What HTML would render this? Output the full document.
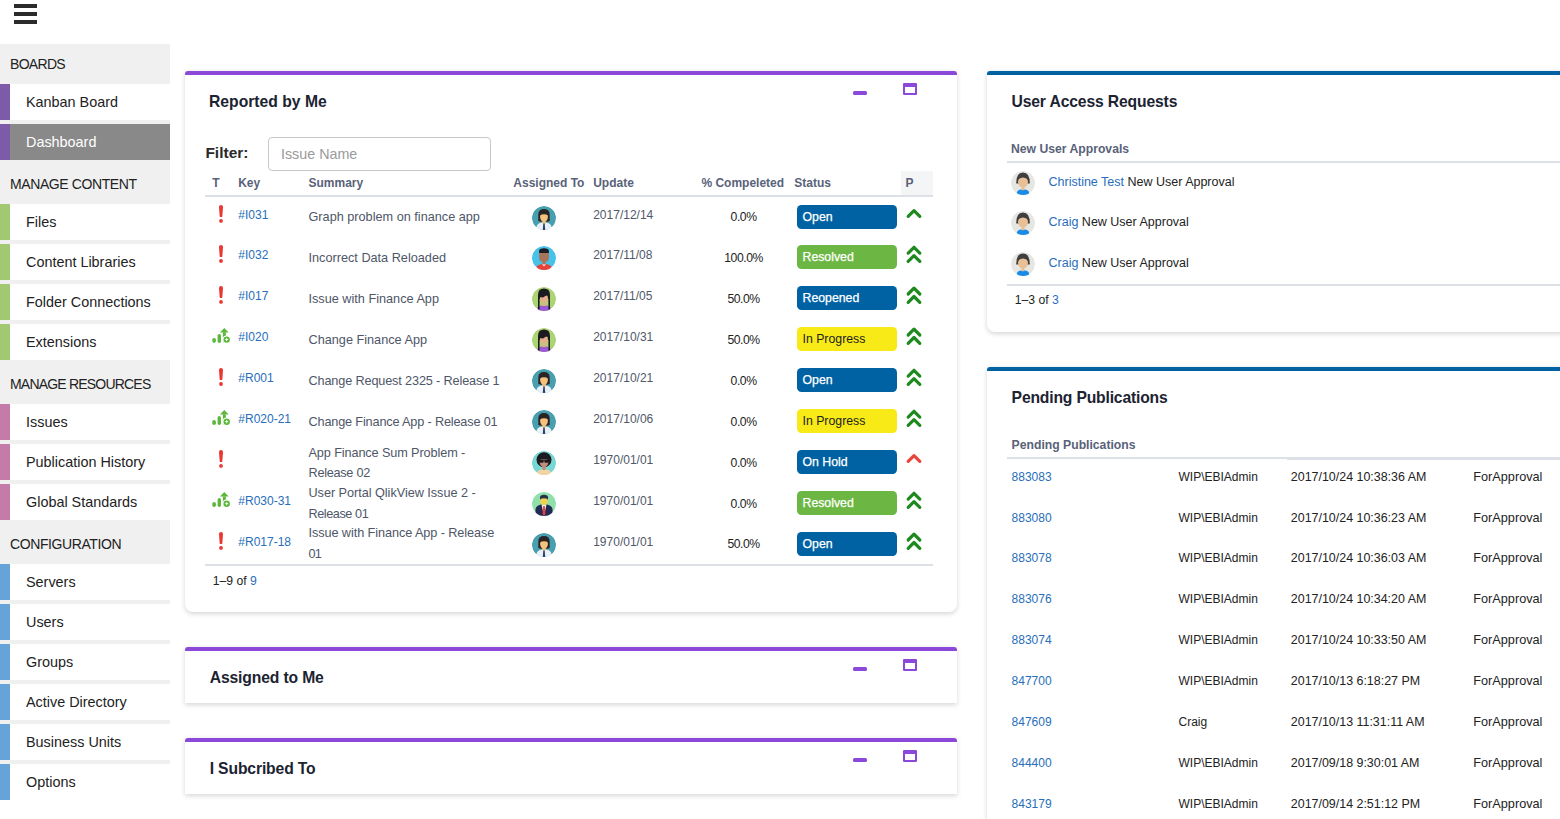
<!DOCTYPE html>
<html><head><meta charset="utf-8">
<style>
*{box-sizing:border-box;margin:0;padding:0}
html,body{width:1560px;height:819px;overflow:hidden;background:#fff;font-family:"Liberation Sans",sans-serif;color:#222;position:relative}
.a{position:absolute;white-space:nowrap}
.ham{position:absolute;left:14px;width:23px;height:4px;background:#2b2b2b}
#side{position:absolute;left:0;top:44px;width:170px;height:756px;background:#f0f0f0}
#side .h{height:40px;line-height:40px;padding-left:10px;font-size:14px;color:#222;letter-spacing:-0.4px}
#side .i{height:36px;line-height:36px;margin-bottom:4px;background:#fff;border-left:10px solid #7e5ba8;padding-left:16px;font-size:14.4px;color:#222}
#side .i.sel{background:#898989;color:#fff}
#side .g{border-left-color:#a3c872}
#side .p{border-left-color:#c57aa9}
#side .b{border-left-color:#66a3d9}
.panel{position:absolute;background:#fff;border-radius:3px 3px 8px 8px;box-shadow:0 1.5px 5px rgba(0,0,0,0.16)}
.pt{border-top:4px solid #8c48d9}
.bt{border-top:4px solid #0062a3}
.min{position:absolute;width:14px;height:4px;background:#8c48d9;border-radius:1.5px}
.max{position:absolute;width:14px;height:12px;border:2px solid #8c48d9;border-top-width:4px;border-radius:1px}
.badge{width:100px;height:24px;border-radius:4.5px;padding-left:5.5px;font-size:12.3px;line-height:24px;-webkit-text-stroke:0.25px currentColor}
</style></head><body>
<div class="ham" style="top:4px"></div>
<div class="ham" style="top:12px"></div>
<div class="ham" style="top:20px"></div>
<div id="side">
<div class="h" style="letter-spacing:-0.7px">BOARDS</div>
<div class="i">Kanban Board</div>
<div class="i sel">Dashboard</div>
<div class="h">MANAGE CONTENT</div>
<div class="i g">Files</div>
<div class="i g">Content Libraries</div>
<div class="i g">Folder Connections</div>
<div class="i g">Extensions</div>
<div class="h" style="letter-spacing:-0.8px">MANAGE RESOURCES</div>
<div class="i p">Issues</div>
<div class="i p">Publication History</div>
<div class="i p">Global Standards</div>
<div class="h">CONFIGURATION</div>
<div class="i b">Servers</div>
<div class="i b">Users</div>
<div class="i b">Groups</div>
<div class="i b">Active Directory</div>
<div class="i b">Business Units</div>
<div class="i b" style="margin-bottom:0">Options</div>
</div>
<div class="panel pt" style="left:185px;top:71px;width:772px;height:541px"></div>
<div class="a " style="left:209.0px;top:94.00px;font-size:15.7px;line-height:15.7px;color:#1c2331;font-weight:bold;">Reported by Me</div>
<div class="min" style="left:853px;top:91px"></div><div class="max" style="left:903px;top:83px"></div>
<div class="a " style="left:205.4px;top:145.00px;font-size:15.5px;line-height:15.5px;color:#2a2a2a;font-weight:bold;">Filter:</div>
<div class="a" style="left:268px;top:137px;width:223px;height:34px;border:1px solid #c8c8c8;border-radius:4px"></div>
<div class="a " style="left:281.0px;top:147.00px;font-size:14.3px;line-height:14.3px;color:#9a9a9a;font-weight:normal;">Issue Name</div>
<div class="a" style="left:901px;top:171px;width:32px;height:24px;background:#f4f5f7"></div>
<div class="a " style="left:212.3px;top:177.00px;font-size:12px;line-height:12px;color:#596279;font-weight:bold;">T</div>
<div class="a " style="left:238.2px;top:177.00px;font-size:12px;line-height:12px;color:#596279;font-weight:bold;">Key</div>
<div class="a " style="left:308.5px;top:177.00px;font-size:12px;line-height:12px;color:#596279;font-weight:bold;">Summary</div>
<div class="a " style="left:513.3px;top:177.00px;font-size:12px;line-height:12px;color:#596279;font-weight:bold;">Assigned To</div>
<div class="a " style="left:593.2px;top:177.00px;font-size:12px;line-height:12px;color:#596279;font-weight:bold;">Update</div>
<div class="a " style="left:701.4px;top:177.00px;font-size:12px;line-height:12px;color:#596279;font-weight:bold;">% Compeleted</div>
<div class="a " style="left:794.3px;top:177.00px;font-size:12px;line-height:12px;color:#596279;font-weight:bold;">Status</div>
<div class="a " style="left:905.5px;top:177.00px;font-size:12px;line-height:12px;color:#596279;font-weight:bold;">P</div>
<div class="a" style="left:205px;top:195px;width:728px;height:2px;background:#dde0e7"></div>
<div class="a" style="left:205px;top:564px;width:728px;height:2px;background:#dde0e7"></div>
<div class="a " style="left:212.7px;top:575.00px;font-size:12.2px;line-height:12.2px;color:#222;font-weight:normal;">1–9 of <span style="color:#276ebb">9</span></div>
<div class="a " style="left:238.3px;top:209.00px;font-size:12px;line-height:12px;color:#276ebb;font-weight:normal;">#I031</div>
<div class="a " style="left:308.5px;top:211.00px;font-size:12.7px;line-height:12.7px;color:#4e5668;font-weight:normal;letter-spacing:0px">Graph problem on finance app</div>
<div class="a " style="left:593.2px;top:209.00px;font-size:12px;line-height:12px;color:#505869;font-weight:normal;">2017/12/14</div>
<div class="a" style="left:693.6px;width:100px;text-align:center;top:211.00px;font-size:12.2px;line-height:12.2px;color:#222;font-weight:normal;letter-spacing:-0.45px">0.0%</div>
<div class="a badge" style="left:797px;top:204.9px;background:#0062a3;color:#fff;">Open</div>
<div class="a " style="left:238.3px;top:249.00px;font-size:12px;line-height:12px;color:#276ebb;font-weight:normal;">#I032</div>
<div class="a " style="left:308.5px;top:252.00px;font-size:12.7px;line-height:12.7px;color:#4e5668;font-weight:normal;letter-spacing:0px">Incorrect Data Reloaded</div>
<div class="a " style="left:593.2px;top:249.00px;font-size:12px;line-height:12px;color:#505869;font-weight:normal;">2017/11/08</div>
<div class="a" style="left:693.6px;width:100px;text-align:center;top:252.00px;font-size:12.2px;line-height:12.2px;color:#222;font-weight:normal;letter-spacing:-0.45px">100.0%</div>
<div class="a badge" style="left:797px;top:245.0px;background:#6cb743;color:#fff;">Resolved</div>
<div class="a " style="left:238.3px;top:290.00px;font-size:12px;line-height:12px;color:#276ebb;font-weight:normal;">#I017</div>
<div class="a " style="left:308.5px;top:293.00px;font-size:12.7px;line-height:12.7px;color:#4e5668;font-weight:normal;letter-spacing:0px">Issue with Finance App</div>
<div class="a " style="left:593.2px;top:290.00px;font-size:12px;line-height:12px;color:#505869;font-weight:normal;">2017/11/05</div>
<div class="a" style="left:693.6px;width:100px;text-align:center;top:293.00px;font-size:12.2px;line-height:12.2px;color:#222;font-weight:normal;letter-spacing:-0.45px">50.0%</div>
<div class="a badge" style="left:797px;top:285.9px;background:#0062a3;color:#fff;">Reopened</div>
<div class="a " style="left:238.3px;top:331.00px;font-size:12px;line-height:12px;color:#276ebb;font-weight:normal;">#I020</div>
<div class="a " style="left:308.5px;top:334.00px;font-size:12.7px;line-height:12.7px;color:#4e5668;font-weight:normal;letter-spacing:0px">Change Finance App</div>
<div class="a " style="left:593.2px;top:331.00px;font-size:12px;line-height:12px;color:#505869;font-weight:normal;">2017/10/31</div>
<div class="a" style="left:693.6px;width:100px;text-align:center;top:334.00px;font-size:12.2px;line-height:12.2px;color:#222;font-weight:normal;letter-spacing:-0.45px">50.0%</div>
<div class="a badge" style="left:797px;top:326.9px;background:#f7ea16;color:#222;-webkit-text-stroke:0">In Progress</div>
<div class="a " style="left:238.3px;top:372.00px;font-size:12px;line-height:12px;color:#276ebb;font-weight:normal;">#R001</div>
<div class="a " style="left:308.5px;top:375.00px;font-size:12.7px;line-height:12.7px;color:#4e5668;font-weight:normal;letter-spacing:-0.145px">Change Request 2325 - Release 1</div>
<div class="a " style="left:593.2px;top:372.00px;font-size:12px;line-height:12px;color:#505869;font-weight:normal;">2017/10/21</div>
<div class="a" style="left:693.6px;width:100px;text-align:center;top:375.00px;font-size:12.2px;line-height:12.2px;color:#222;font-weight:normal;letter-spacing:-0.45px">0.0%</div>
<div class="a badge" style="left:797px;top:368.0px;background:#0062a3;color:#fff;">Open</div>
<div class="a " style="left:238.3px;top:413.00px;font-size:12px;line-height:12px;color:#276ebb;font-weight:normal;">#R020-21</div>
<div class="a " style="left:308.5px;top:416.00px;font-size:12.7px;line-height:12.7px;color:#4e5668;font-weight:normal;letter-spacing:-0.16px">Change Finance App - Release 01</div>
<div class="a " style="left:593.2px;top:413.00px;font-size:12px;line-height:12px;color:#505869;font-weight:normal;">2017/10/06</div>
<div class="a" style="left:693.6px;width:100px;text-align:center;top:416.00px;font-size:12.2px;line-height:12.2px;color:#222;font-weight:normal;letter-spacing:-0.45px">0.0%</div>
<div class="a badge" style="left:797px;top:409.0px;background:#f7ea16;color:#222;-webkit-text-stroke:0">In Progress</div>
<div class="a " style="left:308.5px;top:447.00px;font-size:12.7px;line-height:12.7px;color:#4e5668;font-weight:normal;letter-spacing:-0.11px">App Finance Sum Problem -</div>
<div class="a " style="left:308.5px;top:467.00px;font-size:12.7px;line-height:12.7px;color:#4e5668;font-weight:normal;letter-spacing:-0.27px">Release 02</div>
<div class="a " style="left:593.2px;top:454.00px;font-size:12px;line-height:12px;color:#505869;font-weight:normal;">1970/01/01</div>
<div class="a" style="left:693.6px;width:100px;text-align:center;top:457.00px;font-size:12.2px;line-height:12.2px;color:#222;font-weight:normal;letter-spacing:-0.45px">0.0%</div>
<div class="a badge" style="left:797px;top:449.9px;background:#0062a3;color:#fff;">On Hold</div>
<div class="a " style="left:238.3px;top:495.00px;font-size:12px;line-height:12px;color:#276ebb;font-weight:normal;">#R030-31</div>
<div class="a " style="left:308.5px;top:487.00px;font-size:12.7px;line-height:12.7px;color:#4e5668;font-weight:normal;letter-spacing:-0.04px">User Portal QlikView Issue 2 -</div>
<div class="a " style="left:308.5px;top:508.00px;font-size:12.7px;line-height:12.7px;color:#4e5668;font-weight:normal;letter-spacing:-0.44px">Release 01</div>
<div class="a " style="left:593.2px;top:495.00px;font-size:12px;line-height:12px;color:#505869;font-weight:normal;">1970/01/01</div>
<div class="a" style="left:693.6px;width:100px;text-align:center;top:498.00px;font-size:12.2px;line-height:12.2px;color:#222;font-weight:normal;letter-spacing:-0.45px">0.0%</div>
<div class="a badge" style="left:797px;top:491.0px;background:#6cb743;color:#fff;">Resolved</div>
<div class="a " style="left:238.3px;top:536.00px;font-size:12px;line-height:12px;color:#276ebb;font-weight:normal;">#R017-18</div>
<div class="a " style="left:308.5px;top:527.00px;font-size:12.7px;line-height:12.7px;color:#4e5668;font-weight:normal;letter-spacing:-0.08px">Issue with Finance App - Release</div>
<div class="a " style="left:308.5px;top:548.00px;font-size:12.7px;line-height:12.7px;color:#4e5668;font-weight:normal;letter-spacing:-0.8px">01</div>
<div class="a " style="left:593.2px;top:536.00px;font-size:12px;line-height:12px;color:#505869;font-weight:normal;">1970/01/01</div>
<div class="a" style="left:693.6px;width:100px;text-align:center;top:538.00px;font-size:12.2px;line-height:12.2px;color:#222;font-weight:normal;letter-spacing:-0.45px">50.0%</div>
<div class="a badge" style="left:797px;top:531.9px;background:#0062a3;color:#fff;">Open</div>
<div class="panel pt" style="left:185px;top:647px;width:772px;height:56px;border-radius:3px 3px 0 0"></div>
<div class="a " style="left:209.7px;top:670.00px;font-size:15.7px;line-height:15.7px;color:#1c2331;font-weight:bold;letter-spacing:-0.14px">Assigned to Me</div>
<div class="min" style="left:853px;top:667px"></div><div class="max" style="left:903px;top:659px"></div>
<div class="panel pt" style="left:185px;top:738px;width:772px;height:56px;border-radius:3px 3px 0 0"></div>
<div class="a " style="left:209.7px;top:761.00px;font-size:15.7px;line-height:15.7px;color:#1c2331;font-weight:bold;letter-spacing:-0.14px">I Subcribed To</div>
<div class="min" style="left:853px;top:758px"></div><div class="max" style="left:903px;top:750px"></div>
<div class="panel bt" style="left:987px;top:71px;width:640px;height:261px"></div>
<div class="a " style="left:1011.5px;top:94.00px;font-size:15.7px;line-height:15.7px;color:#1c2331;font-weight:bold;letter-spacing:-0.14px">User Access Requests</div>
<div class="a " style="left:1011.0px;top:143.00px;font-size:12.2px;line-height:12.2px;color:#596279;font-weight:bold;">New User Approvals</div>
<div class="a" style="left:1007px;top:161px;width:560px;height:2px;background:#dde0e7"></div>
<div class="a " style="left:1048.5px;top:176.00px;font-size:12.5px;line-height:12.5px;color:#222;font-weight:normal;"><span style="color:#276ebb">Christine Test</span> New User Approval</div>
<div class="a " style="left:1048.5px;top:216.00px;font-size:12.5px;line-height:12.5px;color:#222;font-weight:normal;"><span style="color:#276ebb">Craig</span> New User Approval</div>
<div class="a " style="left:1048.5px;top:257.00px;font-size:12.5px;line-height:12.5px;color:#222;font-weight:normal;"><span style="color:#276ebb">Craig</span> New User Approval</div>
<div class="a" style="left:1007px;top:284px;width:560px;height:2px;background:#dde0e7"></div>
<div class="a " style="left:1014.8px;top:294.00px;font-size:12.2px;line-height:12.2px;color:#222;font-weight:normal;">1–3 of <span style="color:#276ebb">3</span></div>
<div class="panel bt" style="left:987px;top:367px;width:640px;height:500px"></div>
<div class="a " style="left:1011.6px;top:390.00px;font-size:15.7px;line-height:15.7px;color:#1c2331;font-weight:bold;letter-spacing:-0.18px">Pending Publications</div>
<div class="a " style="left:1011.6px;top:439.00px;font-size:12.2px;line-height:12.2px;color:#596279;font-weight:bold;">Pending Publications</div>
<div class="a" style="left:1007px;top:457px;width:560px;height:2px;background:#dde0e7"></div>
<div class="a" style="left:1287px;top:459px;width:280px;height:1px;background:#dde0e7"></div>
<div class="a " style="left:1011.6px;top:471.00px;font-size:12px;line-height:12px;color:#276ebb;font-weight:normal;">883083</div>
<div class="a " style="left:1178.5px;top:471.00px;font-size:12.0px;line-height:12.0px;color:#222;font-weight:normal;">WIP\EBIAdmin</div>
<div class="a " style="left:1290.8px;top:471.00px;font-size:12.45px;line-height:12.45px;color:#222;font-weight:normal;">2017/10/24 10:38:36 AM</div>
<div class="a " style="left:1473.3px;top:471.00px;font-size:12.7px;line-height:12.7px;color:#222;font-weight:normal;">ForApproval</div>
<div class="a " style="left:1011.6px;top:512.00px;font-size:12px;line-height:12px;color:#276ebb;font-weight:normal;">883080</div>
<div class="a " style="left:1178.5px;top:512.00px;font-size:12.0px;line-height:12.0px;color:#222;font-weight:normal;">WIP\EBIAdmin</div>
<div class="a " style="left:1290.8px;top:512.00px;font-size:12.45px;line-height:12.45px;color:#222;font-weight:normal;">2017/10/24 10:36:23 AM</div>
<div class="a " style="left:1473.3px;top:512.00px;font-size:12.7px;line-height:12.7px;color:#222;font-weight:normal;">ForApproval</div>
<div class="a " style="left:1011.6px;top:552.00px;font-size:12px;line-height:12px;color:#276ebb;font-weight:normal;">883078</div>
<div class="a " style="left:1178.5px;top:552.00px;font-size:12.0px;line-height:12.0px;color:#222;font-weight:normal;">WIP\EBIAdmin</div>
<div class="a " style="left:1290.8px;top:552.00px;font-size:12.45px;line-height:12.45px;color:#222;font-weight:normal;">2017/10/24 10:36:03 AM</div>
<div class="a " style="left:1473.3px;top:552.00px;font-size:12.7px;line-height:12.7px;color:#222;font-weight:normal;">ForApproval</div>
<div class="a " style="left:1011.6px;top:593.00px;font-size:12px;line-height:12px;color:#276ebb;font-weight:normal;">883076</div>
<div class="a " style="left:1178.5px;top:593.00px;font-size:12.0px;line-height:12.0px;color:#222;font-weight:normal;">WIP\EBIAdmin</div>
<div class="a " style="left:1290.8px;top:593.00px;font-size:12.45px;line-height:12.45px;color:#222;font-weight:normal;">2017/10/24 10:34:20 AM</div>
<div class="a " style="left:1473.3px;top:593.00px;font-size:12.7px;line-height:12.7px;color:#222;font-weight:normal;">ForApproval</div>
<div class="a " style="left:1011.6px;top:634.00px;font-size:12px;line-height:12px;color:#276ebb;font-weight:normal;">883074</div>
<div class="a " style="left:1178.5px;top:634.00px;font-size:12.0px;line-height:12.0px;color:#222;font-weight:normal;">WIP\EBIAdmin</div>
<div class="a " style="left:1290.8px;top:634.00px;font-size:12.45px;line-height:12.45px;color:#222;font-weight:normal;">2017/10/24 10:33:50 AM</div>
<div class="a " style="left:1473.3px;top:634.00px;font-size:12.7px;line-height:12.7px;color:#222;font-weight:normal;">ForApproval</div>
<div class="a " style="left:1011.6px;top:675.00px;font-size:12px;line-height:12px;color:#276ebb;font-weight:normal;">847700</div>
<div class="a " style="left:1178.5px;top:675.00px;font-size:12.0px;line-height:12.0px;color:#222;font-weight:normal;">WIP\EBIAdmin</div>
<div class="a " style="left:1290.8px;top:675.00px;font-size:12.45px;line-height:12.45px;color:#222;font-weight:normal;">2017/10/13 6:18:27 PM</div>
<div class="a " style="left:1473.3px;top:675.00px;font-size:12.7px;line-height:12.7px;color:#222;font-weight:normal;">ForApproval</div>
<div class="a " style="left:1011.6px;top:716.00px;font-size:12px;line-height:12px;color:#276ebb;font-weight:normal;">847609</div>
<div class="a " style="left:1178.5px;top:716.00px;font-size:12.0px;line-height:12.0px;color:#222;font-weight:normal;">Craig</div>
<div class="a " style="left:1290.8px;top:716.00px;font-size:12.45px;line-height:12.45px;color:#222;font-weight:normal;">2017/10/13 11:31:11 AM</div>
<div class="a " style="left:1473.3px;top:716.00px;font-size:12.7px;line-height:12.7px;color:#222;font-weight:normal;">ForApproval</div>
<div class="a " style="left:1011.6px;top:757.00px;font-size:12px;line-height:12px;color:#276ebb;font-weight:normal;">844400</div>
<div class="a " style="left:1178.5px;top:757.00px;font-size:12.0px;line-height:12.0px;color:#222;font-weight:normal;">WIP\EBIAdmin</div>
<div class="a " style="left:1290.8px;top:757.00px;font-size:12.45px;line-height:12.45px;color:#222;font-weight:normal;">2017/09/18 9:30:01 AM</div>
<div class="a " style="left:1473.3px;top:757.00px;font-size:12.7px;line-height:12.7px;color:#222;font-weight:normal;">ForApproval</div>
<div class="a " style="left:1011.6px;top:798.00px;font-size:12px;line-height:12px;color:#276ebb;font-weight:normal;">843179</div>
<div class="a " style="left:1178.5px;top:798.00px;font-size:12.0px;line-height:12.0px;color:#222;font-weight:normal;">WIP\EBIAdmin</div>
<div class="a " style="left:1290.8px;top:798.00px;font-size:12.45px;line-height:12.45px;color:#222;font-weight:normal;">2017/09/14 2:51:12 PM</div>
<div class="a " style="left:1473.3px;top:798.00px;font-size:12.7px;line-height:12.7px;color:#222;font-weight:normal;">ForApproval</div>
<svg style="position:absolute;left:0;top:0" width="1560" height="819" viewBox="0 0 1560 819"><defs><clipPath id="avc"><circle cx="12" cy="12" r="12"/></clipPath><g id="av-teal"><g clip-path="url(#avc)"><circle cx="12" cy="12" r="12" fill="#479fb0"/>
<path d="M6.3,15 V8.5 Q6.3,3 12,3 Q17.7,3 17.7,8.5 V15 Q15,16 12,15.5 Q9,16 6.3,15 Z" fill="#2b2424"/>
<path d="M4.5,24 V21 Q5,17.3 10,16.5 L14,16.5 Q19,17.3 19.5,21 V24 Z" fill="#e9f1f6"/>
<path d="M10.3,14 h3.4 v3 l-1.7,1.5 l-1.7,-1.5 Z" fill="#f5c27e"/>
<ellipse cx="12" cy="11" rx="3.9" ry="4.6" fill="#f5c27e"/>
<path d="M7.6,9.2 Q7.6,5 12,5 Q16.4,5 16.4,9.2 Q12,7.2 7.6,9.2 Z" fill="#2b2424"/>
<path d="M11.3,17.5 h1.4 l0.5,6.5 h-2.4 Z" fill="#2a3d6b"/></g></g><g id="av-blue"><g clip-path="url(#avc)"><circle cx="12" cy="12" r="12" fill="#47c3ea"/>
<path d="M4.5,24 V21.5 Q5,18.5 10,18 L14,18 Q19,18.5 19.5,21.5 V24 Z" fill="#ea4138"/>
<path d="M10,18 L12,20.5 L14,18 Z" fill="#fff"/>
<rect x="10.4" y="14" width="3.2" height="4.5" fill="#a8755a"/>
<path d="M7.1,6.5 H16.9 V12 Q16.9,16 12,16.2 Q7.1,16 7.1,12 Z" fill="#a8755a"/>
<path d="M7.1,7 V5 Q7.1,2.3 12,2.3 Q16.9,2.3 16.9,5 V7 Z" fill="#1d1d22"/></g></g><g id="av-green"><g clip-path="url(#avc)"><circle cx="12" cy="12" r="12" fill="#acd473"/>
<path d="M5.5,24 V21 Q6,19 10,18.5 L14,18.5 Q18,19 18.5,21 V24 Z" fill="#9b59d6"/>
<path d="M6,22.5 V8 Q6,1.6 12,1.6 Q18,1.6 18,8 V22.5 h-1.6 V12 h-8.8 V22.5 Z" fill="#1c1b1f"/>
<rect x="10.4" y="14" width="3.2" height="5" fill="#e2b08a"/>
<ellipse cx="12" cy="11.3" rx="4" ry="4.7" fill="#e2b08a"/>
<path d="M7.6,10 Q7.6,4 12.5,4.2 Q16.4,4.4 16.4,8 Q13,8.5 11,10.5 Z" fill="#1c1b1f"/></g></g><g id="av-afro"><g clip-path="url(#avc)"><circle cx="12" cy="12" r="12" fill="#76d7d3"/>
<path d="M5,24 V21.5 Q6,18.8 10,18.5 L14,18.5 Q18,18.8 19,21.5 V24 Z" fill="#f5d4a3"/>
<circle cx="12" cy="8.7" r="7.5" fill="#1c1b1f"/>
<rect x="10.4" y="14" width="3.2" height="5" fill="#c48d77"/>
<ellipse cx="12" cy="11.5" rx="4.2" ry="4.6" fill="#c48d77"/>
<rect x="7.8" y="5.5" width="8.4" height="3" fill="#1c1b1f"/>
<rect x="7.6" y="8.9" width="4" height="2.8" rx="0.8" fill="#1c1b1f"/><rect x="12.4" y="8.9" width="4" height="2.8" rx="0.8" fill="#1c1b1f"/><rect x="11" y="9.2" width="2" height="0.8" fill="#1c1b1f"/></g></g><g id="av-suit"><g clip-path="url(#avc)"><circle cx="12" cy="12" r="12" fill="#8fe0aa"/>
<path d="M3.5,24 V17 Q4,13.5 9,12.5 L15,12.5 Q20,13.5 20.5,17 V24 Z" fill="#232b55"/>
<path d="M9.5,12.5 L12,24 L14.5,12.5 Z" fill="#eef2f5"/>
<path d="M11.2,14 h1.6 l0.6,8 l-1.4,1.5 l-1.4,-1.5 Z" fill="#ea4138"/>
<path d="M8.5,5.5 H15.5 V9.5 Q15.5,13 12,13 Q8.5,13 8.5,9.5 Z" fill="#f2d24a"/>
<path d="M8,8 V5.5 Q8,2.8 12,2.8 Q16,2.8 16,5.5 V8 L15.2,6.8 Q12,5.5 8.8,6.8 Z" fill="#26304f"/></g></g><g id="av-gray"><g clip-path="url(#avc)"><circle cx="12" cy="12" r="12" fill="#e6e6e3"/>
<path d="M5.8,24 V22 Q6.3,18.8 10.3,18.6 H13.7 Q17.7,18.8 18.2,22 V24 Z" fill="#1a8ae8"/>
<rect x="10.6" y="15" width="2.8" height="4.2" fill="#e9bf95"/>
<path d="M5.2,12.5 Q5,1.6 12,1.6 Q19,1.6 18.8,12.5 Z" fill="#3f3f3f"/>
<ellipse cx="12" cy="10.9" rx="5" ry="5.8" fill="#e9bf95"/>
<path d="M6.9,9 Q6.9,3.6 12,3.6 Q17.1,3.6 17.1,9 Q15.5,6.4 12,6.4 Q8.5,6.4 6.9,9 Z" fill="#3f3f3f"/></g></g></defs><path d="M219,206.9 A2,2 0 0 1 223,206.9 L222.3,216.6 A0.6,0.6 0 0 1 221.7,216.9 L220.3,216.9 A0.6,0.6 0 0 1 219.7,216.6 Z" fill="#e8382f"/><circle cx="221" cy="220.9" r="1.9" fill="#e8382f"/><use href="#av-teal" x="532" y="206"/><polyline points="908.2,216.4 914.0,210.6 919.8,216.4" fill="none" stroke="#1e8a1e" stroke-width="3.2" stroke-linecap="round" stroke-linejoin="round"/><path d="M219,247.0 A2,2 0 0 1 223,247.0 L222.3,256.7 A0.6,0.6 0 0 1 221.7,257.0 L220.3,257.0 A0.6,0.6 0 0 1 219.7,256.7 Z" fill="#e8382f"/><circle cx="221" cy="261.0" r="1.9" fill="#e8382f"/><use href="#av-blue" x="532" y="246"/><polyline points="908.2,253.1 914.0,247.3 919.8,253.1" fill="none" stroke="#1e8a1e" stroke-width="3.2" stroke-linecap="round" stroke-linejoin="round"/><polyline points="908.2,261.4 914.0,255.6 919.8,261.4" fill="none" stroke="#1e8a1e" stroke-width="3.2" stroke-linecap="round" stroke-linejoin="round"/><path d="M219,287.9 A2,2 0 0 1 223,287.9 L222.3,297.6 A0.6,0.6 0 0 1 221.7,297.9 L220.3,297.9 A0.6,0.6 0 0 1 219.7,297.6 Z" fill="#e8382f"/><circle cx="221" cy="301.9" r="1.9" fill="#e8382f"/><use href="#av-green" x="532" y="287"/><polyline points="908.2,294.0 914.0,288.2 919.8,294.0" fill="none" stroke="#1e8a1e" stroke-width="3.2" stroke-linecap="round" stroke-linejoin="round"/><polyline points="908.2,302.3 914.0,296.5 919.8,302.3" fill="none" stroke="#1e8a1e" stroke-width="3.2" stroke-linecap="round" stroke-linejoin="round"/><g fill="#5cb83c"><rect x="212.3" y="337.9" width="3.6" height="5" rx="1.8"/><rect x="217.6" y="333.9" width="3.4" height="9" rx="1.7"/><path d="M224.3,327.9 L228.7,332.5 L219.9,332.5 Z"/><rect x="222.9" y="332.3" width="2.9" height="10.4" fill="#a8d88f"/><rect x="222.9" y="332.3" width="2.9" height="6"/></g><circle cx="226.7" cy="339.6" r="4.1" fill="#fff"/><circle cx="226.7" cy="339.6" r="3.2" fill="#5cb83c"/><path d="M226.7,337.6 L227.3,339.0 L228.7,339.6 L227.3,340.2 L226.7,341.6 L226.1,340.2 L224.7,339.6 L226.1,339.0 Z" fill="#fff"/><use href="#av-green" x="532" y="328"/><polyline points="908.2,335.0 914.0,329.2 919.8,335.0" fill="none" stroke="#1e8a1e" stroke-width="3.2" stroke-linecap="round" stroke-linejoin="round"/><polyline points="908.2,343.3 914.0,337.5 919.8,343.3" fill="none" stroke="#1e8a1e" stroke-width="3.2" stroke-linecap="round" stroke-linejoin="round"/><path d="M219,370.0 A2,2 0 0 1 223,370.0 L222.3,379.7 A0.6,0.6 0 0 1 221.7,380.0 L220.3,380.0 A0.6,0.6 0 0 1 219.7,379.7 Z" fill="#e8382f"/><circle cx="221" cy="384.0" r="1.9" fill="#e8382f"/><use href="#av-teal" x="532" y="369"/><polyline points="908.2,376.1 914.0,370.3 919.8,376.1" fill="none" stroke="#1e8a1e" stroke-width="3.2" stroke-linecap="round" stroke-linejoin="round"/><polyline points="908.2,384.4 914.0,378.6 919.8,384.4" fill="none" stroke="#1e8a1e" stroke-width="3.2" stroke-linecap="round" stroke-linejoin="round"/><g fill="#5cb83c"><rect x="212.3" y="420.0" width="3.6" height="5" rx="1.8"/><rect x="217.6" y="416.0" width="3.4" height="9" rx="1.7"/><path d="M224.3,410.0 L228.7,414.6 L219.9,414.6 Z"/><rect x="222.9" y="414.4" width="2.9" height="10.4" fill="#a8d88f"/><rect x="222.9" y="414.4" width="2.9" height="6"/></g><circle cx="226.7" cy="421.7" r="4.1" fill="#fff"/><circle cx="226.7" cy="421.7" r="3.2" fill="#5cb83c"/><path d="M226.7,419.7 L227.3,421.1 L228.7,421.7 L227.3,422.3 L226.7,423.7 L226.1,422.3 L224.7,421.7 L226.1,421.1 Z" fill="#fff"/><use href="#av-teal" x="532" y="410"/><polyline points="908.2,417.1 914.0,411.3 919.8,417.1" fill="none" stroke="#1e8a1e" stroke-width="3.2" stroke-linecap="round" stroke-linejoin="round"/><polyline points="908.2,425.4 914.0,419.6 919.8,425.4" fill="none" stroke="#1e8a1e" stroke-width="3.2" stroke-linecap="round" stroke-linejoin="round"/><path d="M219,451.9 A2,2 0 0 1 223,451.9 L222.3,461.6 A0.6,0.6 0 0 1 221.7,461.9 L220.3,461.9 A0.6,0.6 0 0 1 219.7,461.6 Z" fill="#e8382f"/><circle cx="221" cy="465.9" r="1.9" fill="#e8382f"/><use href="#av-afro" x="532" y="451"/><polyline points="908.2,461.4 914.0,455.6 919.8,461.4" fill="none" stroke="#e8453c" stroke-width="3.2" stroke-linecap="round" stroke-linejoin="round"/><g fill="#5cb83c"><rect x="212.3" y="502.0" width="3.6" height="5" rx="1.8"/><rect x="217.6" y="498.0" width="3.4" height="9" rx="1.7"/><path d="M224.3,492.0 L228.7,496.6 L219.9,496.6 Z"/><rect x="222.9" y="496.4" width="2.9" height="10.4" fill="#a8d88f"/><rect x="222.9" y="496.4" width="2.9" height="6"/></g><circle cx="226.7" cy="503.7" r="4.1" fill="#fff"/><circle cx="226.7" cy="503.7" r="3.2" fill="#5cb83c"/><path d="M226.7,501.7 L227.3,503.1 L228.7,503.7 L227.3,504.3 L226.7,505.7 L226.1,504.3 L224.7,503.7 L226.1,503.1 Z" fill="#fff"/><use href="#av-suit" x="532" y="492"/><polyline points="908.2,499.1 914.0,493.3 919.8,499.1" fill="none" stroke="#1e8a1e" stroke-width="3.2" stroke-linecap="round" stroke-linejoin="round"/><polyline points="908.2,507.4 914.0,501.6 919.8,507.4" fill="none" stroke="#1e8a1e" stroke-width="3.2" stroke-linecap="round" stroke-linejoin="round"/><path d="M219,533.9 A2,2 0 0 1 223,533.9 L222.3,543.6 A0.6,0.6 0 0 1 221.7,543.9 L220.3,543.9 A0.6,0.6 0 0 1 219.7,543.6 Z" fill="#e8382f"/><circle cx="221" cy="547.9" r="1.9" fill="#e8382f"/><use href="#av-teal" x="532" y="533"/><polyline points="908.2,540.0 914.0,534.2 919.8,540.0" fill="none" stroke="#1e8a1e" stroke-width="3.2" stroke-linecap="round" stroke-linejoin="round"/><polyline points="908.2,548.3 914.0,542.5 919.8,548.3" fill="none" stroke="#1e8a1e" stroke-width="3.2" stroke-linecap="round" stroke-linejoin="round"/><use href="#av-gray" x="1011" y="171.0"/><use href="#av-gray" x="1011" y="211.0"/><use href="#av-gray" x="1011" y="252.0"/></svg>
</body></html>
